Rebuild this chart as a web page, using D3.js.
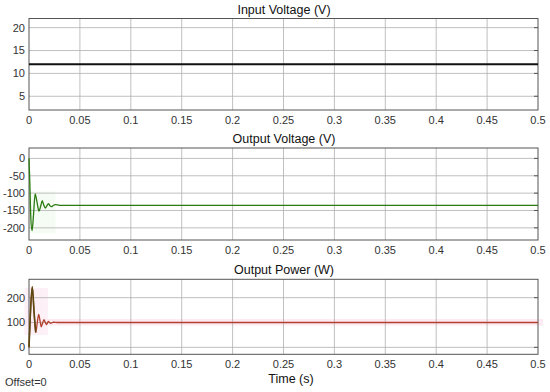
<!DOCTYPE html>
<meta charset="utf-8">
<style>
  body { margin: 0; background: #fff; }
  text { font-family: "Liberation Sans", Arial, sans-serif; fill: #333; }
  .grid line { stroke: #b0b0b0; stroke-width: 0.8px; }
  .frame { fill: none; stroke: #555; stroke-width: 1px; }
</style>

<body>
  <script src="https://d3js.org/d3.v7.min.js"></script>
  <script>

    // x ticks shared by all three panels
    var timeTicks = [0, 0.05, 0.1, 0.15, 0.2, 0.25, 0.3, 0.35, 0.4, 0.45, 0.5];

    // input voltage: constant 12 V
    var inTime = [0, 0.5];
    var inVolt = [12, 12];

    // output voltage (damped ringing then -135 V)
    var outTime = [0, 0.0008, 0.0017, 0.003, 0.0045, 0.006, 0.008, 0.0098, 0.0115, 0.013, 0.0145, 0.016, 0.0175, 0.019, 0.0205, 0.022, 0.024, 0.026, 0.03, 0.5];
    var outVolt = [0, -70, -165, -208, -160, -102, -128, -152, -137, -122, -134, -143, -137, -130, -136, -139, -135, -133, -135, -135];

    // output power
    var powTime = [0, 0.0012, 0.0032, 0.005, 0.0066, 0.008, 0.0095, 0.0108, 0.012, 0.0134, 0.0147, 0.016, 0.0172, 0.019, 0.021, 0.024, 0.028, 0.5];
    var powVal = [0, 120, 244, 140, 60, 95, 133, 108, 83, 98, 112, 100, 92, 104, 97, 101, 100, 100];

    var left = 29, right = 538;
    var panels = [
      { title: "Input Voltage (V)", top: 18.5, bottom: 110, domain: [2, 22], ticks: [5, 10, 15, 20] },
      { title: "Output Voltage (V)", top: 148, bottom: 240, domain: [-235, 30], ticks: [-200, -150, -100, -50, 0] },
      { title: "Output Power (W)", top: 279.3, bottom: 354.3, domain: [-28, 274], ticks: [0, 100, 200] }
    ];

    var svg = d3.select("body").append("svg")
      .attr("width", 550)
      .attr("height", 392);

    var x = d3.scaleLinear().domain([0, 0.5]).range([left, right]);

    // faint highlights sit behind everything
    var hl = svg.append("g");

    panels.forEach(function (p, i) {
      var y = d3.scaleLinear().domain(p.domain).range([p.bottom, p.top]);
      p.y = y;
      var g = svg.append("g");

      var grid = g.append("g").attr("class", "grid");
      grid.selectAll(".vx").data(timeTicks.slice(1, -1)).enter().append("line")
        .attr("x1", x).attr("x2", x)
        .attr("y1", p.top).attr("y2", p.bottom);
      grid.selectAll(".hy").data(p.ticks).enter().append("line")
        .attr("x1", left).attr("x2", right)
        .attr("y1", y).attr("y2", y);

      // small ticks on the right edge
      g.selectAll(".rt").data(p.ticks).enter().append("line")
        .attr("x1", right - 4).attr("x2", right)
        .attr("y1", y).attr("y2", y)
        .attr("stroke", "#555");

      g.append("rect").attr("class", "frame")
        .attr("x", left).attr("y", p.top)
        .attr("width", right - left).attr("height", p.bottom - p.top);

      g.selectAll(".yl").data(p.ticks).enter().append("text")
        .attr("x", left - 4)
        .attr("y", y)
        .attr("dy", "0.35em")
        .attr("text-anchor", "end")
        .style("font-size", "11px")
        .text(function (d) { return d; });

      g.selectAll(".xl").data(timeTicks).enter().append("text")
        .attr("x", x)
        .attr("y", p.bottom + 14)
        .attr("text-anchor", "middle")
        .style("font-size", "11px")
        .text(function (d) { return d; });

      g.append("text")
        .attr("x", 284)
        .attr("y", p.top - 5)
        .attr("text-anchor", "middle")
        .style("font-size", "12.5px")
        .style("fill", "#111")
        .text(p.title);
    });

    function series(ts, vs) {
      return ts.map(function (t, i) { return [t, vs[i]]; });
    }

    function drawLine(data, y, color, width) {
      var line = d3.line()
        .x(function (d) { return x(d[0]); })
        .y(function (d) { return y(d[1]); })
        .curve(d3.curveMonotoneX);
      svg.append("path")
        .datum(data)
        .attr("fill", "none")
        .attr("stroke", color)
        .attr("stroke-width", width)
        .attr("d", line);
    }

    // faint pink highlight on the power panel
    var py = panels[2].y;
    hl.append("rect")
      .attr("x", x(-0.0045)).attr("y", py(239))
      .attr("width", x(0.0185) - x(-0.0045)).attr("height", py(50) - py(239))
      .attr("fill", "#fdf0f6");
    hl.append("rect")
      .attr("x", x(-0.0045)).attr("y", py(114))
      .attr("width", right + 5 - x(-0.0045)).attr("height", py(88) - py(114))
      .attr("fill", "#fdeaf3");

    // faint green highlight on output voltage
    var vy = panels[1].y;
    hl.append("rect")
      .attr("x", x(0)).attr("y", vy(-95))
      .attr("width", x(0.026) - x(0)).attr("height", vy(-215) - vy(-95))
      .attr("fill", "#f5fcf3");

    drawLine(series(inTime, inVolt), panels[0].y, "#111", 2);
    drawLine(series(outTime, outVolt), panels[1].y, "#2b7a12", 1.3);

    var pow = series(powTime, powVal);
    drawLine(pow, panels[2].y, "#b2402c", 1.3);
    drawLine(pow.filter(function (d) { return d[0] <= 0.0066; }), panels[2].y, "#5a4a12", 1.6);

    svg.append("text")
      .attr("x", 291).attr("y", 383)
      .attr("text-anchor", "middle")
      .style("font-size", "12.5px")
      .style("fill", "#111")
      .text("Time (s)");

    svg.append("text")
      .attr("x", 5).attr("y", 386)
      .style("font-size", "11px")
      .text("Offset=0");

  </script>
</body>

</html>
